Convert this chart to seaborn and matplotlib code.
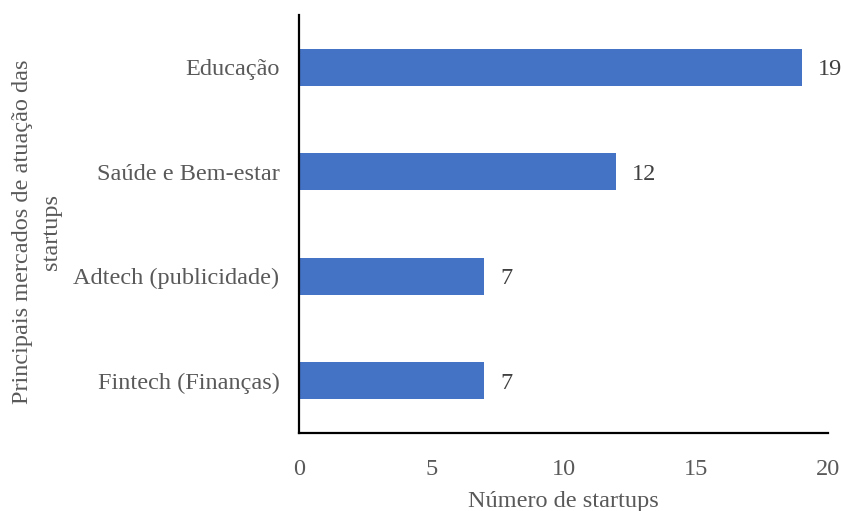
import matplotlib
matplotlib.use("Agg")
import matplotlib.pyplot as plt
import seaborn as sns
import pandas as pd

categories = ["Educação", "Saúde e Bem-estar", "Adtech (publicidade)", "Fintech (Finanças)"]
values = [19, 12, 7, 7]
xticks = [0, 5, 10, 15, 20]

df = pd.DataFrame({"cat": categories, "val": values})

sns.set_theme(style="white")
plt.rcParams["font.family"] = ["Liberation Serif", "DejaVu Serif"]

fig = plt.figure(figsize=(8.43, 5.11), dpi=100)
ax = fig.add_axes([299/843, 1 - 433/511, (828-299)/843, (433-15)/511])

sns.barplot(data=df, y="cat", x="val", orient="h", color="#4472C4",
            saturation=1, width=0.35, ax=ax, edgecolor="none")

txt = "#595959"
fs = 17.5
ax.set_xlim(0, 20)
ax.set_ylim(3.5, -0.5)
ax.set_xticks(xticks)
ax.set_xticklabels([str(t) for t in xticks], fontsize=fs, color=txt)
ax.tick_params(axis="y", labelsize=fs, labelcolor=txt, length=0, pad=14)
ax.tick_params(axis="x", direction="out", length=5, width=1.5, color="black", pad=13.5)

for s in ["top", "right"]:
    ax.spines[s].set_visible(False)
for s in ["left", "bottom"]:
    ax.spines[s].set_color("black")
    ax.spines[s].set_linewidth(1.6)

for i, v in enumerate(values):
    ax.text(v + 0.6, i, str(v), va="center_baseline", ha="left", fontsize=fs, color="#404040")

ax.set_xlabel("Número de startups", fontsize=fs, color=txt)
ax.xaxis.set_label_coords(0.5, (433 - 501) / 418)
ax.xaxis.label.set_va("center")
ax.set_ylabel("Principais mercados de atuação das\nstartups", fontsize=fs, color=txt,
              linespacing=1.5, multialignment="center")
ax.yaxis.label.set_va("center")
ax.yaxis.set_label_coords((37 - 299) / 529, (433 - 232) / 418)

fig.savefig("out.png", dpi=100)
